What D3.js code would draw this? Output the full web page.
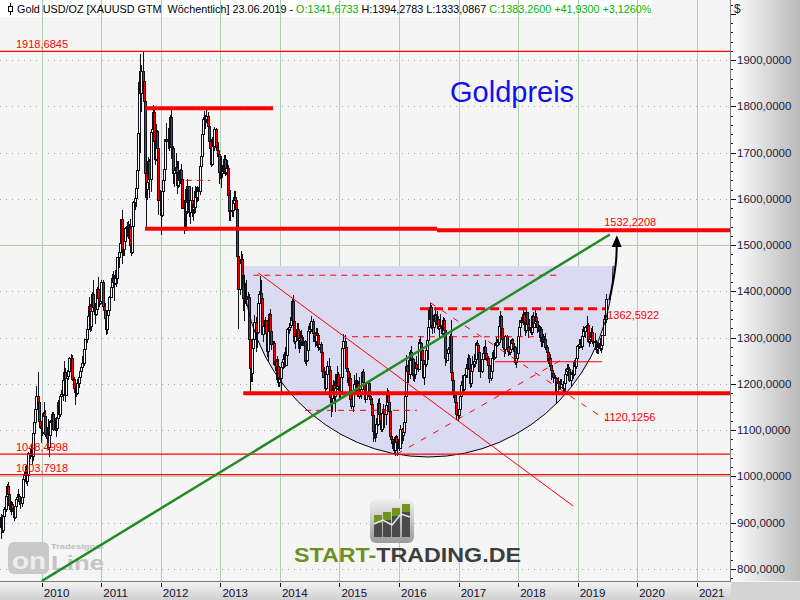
<!DOCTYPE html>
<html>
<head>
<meta charset="utf-8">
<script src="https://cdn.jsdelivr.net/npm/d3@7/dist/d3.min.js"></script>
<style>
html,body{margin:0;padding:0;background:#fff;}
svg{display:block;font-family:"Liberation Sans",Arial,sans-serif;}
</style>
</head>
<body>
<svg id="chart" width="800" height="600"></svg>
<script>
// ---------------- DATA ----------------
const lastBarDate = [2019, 5, 23];   // 23.06.2019 (weekly bars)
const firstOpen = 890;
const closes = [
// 2009
913,885,915,930,958,979,962,938,936,940,932,912,937,951,955,958,948,942,955,995,1006,1003,990,1004,1050,1051,1056,1045,1095,1118,1146,1175,1162,1120,1109,1104,1096,
// 2010
1138,1130,1091,1084,1064,1089,1119,1118,1134,1102,1103,1105,1126,1161,1136,1174,1179,1209,1226,1177,1212,1217,1228,1256,1257,1211,1210,1192,1188,1181,1202,1215,1228,1236,1246,1246,1275,1297,1318,1346,1369,1325,1357,1395,1366,1352,1363,1406,1385,1376,1380,1421,
// 2011
1369,1360,1342,1318,1348,1360,1388,1410,1429,1420,1418,1428,1429,1474,1486,1504,1556,1491,1492,1510,1536,1542,1529,1539,1501,1486,1542,1594,1601,1624,1663,1743,1852,1828,1877,1855,1812,1656,1622,1636,1682,1642,1745,1752,1788,1724,1686,1746,1710,1597,1605,1565,
// 2012
1617,1640,1665,1729,1725,1725,1725,1776,1712,1711,1655,1662,1668,1630,1658,1641,1663,1643,1581,1592,1573,1622,1594,1627,1572,1598,1579,1589,1582,1618,1604,1620,1616,1671,1692,1740,1772,1772,1773,1780,1758,1724,1711,1676,1730,1714,1751,1713,1705,1697,1658,1659,1656,
// 2013
1661,1687,1658,1667,1667,1609,1573,1576,1577,1592,1605,1597,1579,1476,1405,1462,1470,1435,1386,1386,1391,1383,1387,1297,1234,1223,1278,1297,1334,1310,1312,1375,1395,1396,1386,1308,1325,1338,1310,1272,1315,1352,1314,1287,1288,1244,1250,1230,1238,1204,1213,1237,
// 2014
1247,1253,1264,1240,1262,1318,1324,1327,1339,1380,1336,1293,1303,1318,1294,1300,1302,1290,1293,1292,1250,1252,1274,1315,1320,1319,1337,1310,1303,1293,1310,1306,1280,1286,1268,1229,1216,1216,1192,1222,1238,1231,1171,1169,1187,1197,1175,1191,1222,1195,1195,1184,
// 2015
1216,1277,1293,1279,1234,1228,1204,1213,1167,1152,1183,1199,1200,1205,1203,1175,1178,1188,1225,1204,1189,1168,1180,1201,1173,1168,1157,1132,1098,1096,1093,1113,1159,1134,1121,1103,1137,1145,1136,1155,1182,1162,1142,1088,1081,1076,1057,1085,1075,1066,1076,1061,
// 2016
1102,1089,1096,1117,1173,1238,1227,1221,1270,1252,1253,1220,1222,1243,1234,1233,1290,1289,1273,1252,1214,1243,1273,1296,1322,1340,1366,1327,1323,1350,1336,1335,1341,1321,1326,1328,1310,1338,1316,1257,1251,1266,1275,1304,1225,1208,1179,1177,1160,1134,1132,1146,
// 2017
1173,1197,1205,1190,1220,1234,1235,1257,1234,1201,1229,1243,1249,1254,1288,1284,1268,1228,1228,1254,1267,1279,1266,1254,1256,1242,1212,1228,1255,1269,1258,1289,1284,1291,1325,1346,1320,1297,1280,1275,1304,1280,1272,1269,1275,1294,1288,1280,1248,1255,1266,1303,
// 2018
1322,1338,1333,1351,1333,1316,1356,1329,1323,1323,1312,1347,1323,1332,1345,1336,1323,1314,1318,1292,1302,1294,1298,1279,1269,1252,1256,1241,1231,1223,1214,1212,1184,1206,1201,1196,1193,1199,1192,1203,1222,1227,1233,1232,1209,1222,1223,1222,1248,1238,1257,1281,
// 2019
1286,1288,1282,1304,1318,1314,1322,1328,1293,1298,1302,1313,1292,1290,1290,1276,1286,1280,1286,1277,1284,1305,1341,1341.33,1383.26
];
const highs = [
// 2009
918,916,918,935,962,984,989,963,948,947,945,935,940,956,962,972,962,952,958,998,1010,1022,1024,1008,1052,1062,1070,1065,1101,1120,1150,1195,1226,1165,1140,1113,1112,
// 2010
1140,1161,1143,1108,1124,1092,1121,1128,1140,1140,1126,1128,1130,1166,1170,1177,1186,1211,1249,1234,1215,1230,1251,1258,1265,1262,1213,1215,1200,1193,1210,1217,1233,1244,1260,1258,1276,1297,1323,1350,1387,1372,1360,1398,1424,1374,1380,1410,1431,1403,1392,1424,
// 2011
1424,1388,1374,1350,1348,1370,1390,1414,1437,1444,1436,1447,1448,1475,1489,1510,1557,1577,1530,1513,1540,1549,1553,1545,1557,1515,1544,1596,1610,1628,1682,1815,1877,1913,1889,1920,1830,1814,1690,1682,1690,1686,1747,1765,1803,1795,1740,1762,1748,1712,1620,1614,
// 2012
1625,1650,1670,1730,1764,1753,1742,1781,1792,1727,1714,1670,1700,1682,1681,1660,1665,1676,1646,1598,1598,1627,1642,1628,1628,1604,1625,1594,1597,1628,1625,1627,1626,1675,1694,1740,1777,1790,1781,1796,1788,1760,1731,1720,1733,1738,1755,1754,1723,1723,1705,1670,1693,
// 2013
1674,1694,1695,1682,1684,1674,1614,1619,1597,1596,1617,1616,1600,1587,1497,1468,1487,1481,1439,1417,1419,1424,1398,1394,1299,1267,1297,1298,1348,1345,1324,1377,1401,1433,1424,1388,1367,1344,1338,1330,1327,1354,1361,1324,1292,1292,1263,1253,1260,1254,1216,1246,
// 2014
1249,1256,1270,1280,1273,1320,1332,1345,1354,1384,1392,1337,1306,1331,1331,1306,1315,1316,1306,1302,1294,1256,1284,1325,1331,1332,1346,1340,1325,1313,1321,1320,1308,1296,1290,1272,1241,1236,1227,1231,1249,1255,1233,1177,1197,1208,1207,1221,1238,1226,1204,1209,
// 2015
1224,1282,1307,1305,1284,1246,1235,1219,1223,1178,1188,1219,1208,1224,1209,1207,1215,1194,1227,1232,1206,1196,1191,1205,1205,1188,1172,1170,1133,1104,1096,1126,1168,1170,1146,1124,1141,1156,1146,1158,1191,1186,1179,1146,1094,1086,1084,1088,1090,1088,1081,1082,
// 2016
1111,1104,1104,1127,1174,1263,1240,1252,1274,1282,1268,1255,1245,1248,1261,1270,1297,1304,1291,1287,1254,1245,1276,1315,1362,1341,1375,1370,1337,1352,1367,1352,1358,1346,1330,1352,1334,1344,1342,1318,1266,1272,1279,1308,1338,1232,1218,1193,1183,1180,1140,1161,
// 2017
1180,1207,1220,1220,1221,1244,1245,1264,1263,1236,1232,1260,1264,1273,1291,1296,1289,1270,1236,1263,1270,1283,1296,1279,1263,1261,1242,1233,1259,1274,1274,1291,1301,1298,1330,1357,1348,1327,1303,1283,1306,1306,1283,1283,1288,1297,1299,1298,1281,1260,1268,1305,
// 2018
1326,1339,1344,1366,1356,1346,1362,1356,1340,1340,1329,1350,1356,1347,1365,1354,1338,1327,1326,1322,1306,1308,1303,1310,1284,1272,1264,1265,1246,1235,1228,1220,1215,1207,1214,1206,1211,1210,1206,1208,1233,1234,1243,1243,1237,1226,1230,1231,1251,1252,1262,1284,
// 2019
1298,1297,1297,1305,1326,1320,1326,1346,1331,1301,1311,1320,1325,1300,1310,1296,1287,1290,1288,1300,1286,1306,1348,1358,1394.28
];
const lows = [
// 2009
866,881,880,902,925,952,955,930,925,918,925,905,910,932,940,950,940,932,936,950,990,998,986,982,1000,1040,1045,1026,1035,1087,1112,1138,1160,1108,1105,1075,1090,
// 2010
1095,1120,1087,1078,1060,1045,1075,1091,1104,1100,1100,1088,1100,1120,1134,1130,1155,1166,1196,1163,1176,1200,1210,1221,1228,1208,1196,1183,1157,1175,1178,1194,1208,1226,1232,1237,1241,1266,1290,1312,1338,1315,1316,1341,1364,1331,1348,1360,1381,1368,1372,1375,
// 2011
1365,1355,1340,1309,1310,1336,1357,1387,1398,1416,1382,1416,1412,1418,1452,1484,1502,1462,1478,1478,1500,1520,1516,1514,1496,1478,1483,1532,1578,1585,1610,1660,1738,1702,1790,1835,1760,1605,1535,1600,1627,1603,1617,1695,1734,1718,1676,1684,1700,1568,1575,1523,
// 2012
1563,1595,1627,1646,1713,1711,1706,1722,1688,1674,1635,1627,1657,1613,1626,1627,1635,1632,1580,1527,1532,1532,1570,1584,1563,1547,1563,1555,1569,1572,1586,1596,1598,1610,1650,1686,1725,1758,1753,1766,1752,1722,1700,1672,1673,1708,1706,1705,1692,1691,1635,1645,1625,
// 2013
1648,1656,1652,1654,1646,1598,1554,1555,1563,1563,1588,1590,1540,1466,1321,1394,1451,1422,1359,1338,1374,1371,1367,1268,1180,1207,1207,1272,1294,1271,1280,1310,1354,1387,1383,1308,1292,1311,1277,1260,1251,1313,1308,1276,1262,1240,1230,1211,1222,1195,1195,1181,
// 2014
1225,1235,1237,1238,1240,1260,1310,1316,1324,1334,1321,1289,1277,1295,1277,1268,1277,1285,1284,1284,1245,1240,1253,1270,1307,1310,1315,1293,1292,1282,1285,1299,1273,1276,1262,1229,1214,1207,1183,1189,1217,1224,1161,1131,1141,1176,1158,1142,1190,1186,1170,1167,
// 2015
1182,1215,1276,1252,1232,1216,1197,1192,1164,1147,1142,1181,1178,1185,1184,1174,1170,1170,1182,1201,1182,1162,1170,1175,1168,1162,1147,1130,1077,1083,1077,1086,1112,1116,1117,1098,1099,1123,1107,1114,1151,1159,1140,1085,1073,1062,1052,1046,1062,1047,1065,1058,
// 2016
1061,1072,1078,1094,1110,1171,1195,1204,1212,1237,1226,1208,1207,1212,1225,1227,1232,1266,1263,1248,1213,1199,1238,1268,1253,1310,1336,1321,1310,1313,1335,1330,1333,1319,1302,1320,1308,1309,1312,1241,1247,1256,1262,1273,1222,1200,1171,1160,1158,1125,1122,1127,
// 2017
1146,1174,1194,1180,1186,1214,1216,1233,1223,1194,1195,1227,1237,1238,1246,1278,1261,1228,1214,1226,1247,1255,1265,1252,1242,1236,1204,1208,1228,1248,1254,1256,1275,1281,1287,1322,1314,1295,1276,1260,1266,1276,1262,1264,1265,1269,1283,1271,1243,1236,1252,1264,
// 2018
1302,1308,1326,1330,1324,1306,1312,1322,1302,1316,1309,1308,1322,1322,1327,1333,1313,1302,1305,1283,1281,1290,1290,1276,1262,1246,1238,1236,1211,1219,1205,1204,1160,1180,1196,1190,1191,1193,1183,1185,1182,1216,1220,1211,1206,1196,1218,1212,1220,1235,1235,1256,
// 2019
1277,1279,1280,1276,1303,1305,1302,1320,1291,1281,1289,1298,1288,1281,1285,1270,1266,1267,1277,1273,1268,1276,1306,1323,1333.09
];

const yearTicks = [2010,2011,2012,2013,2014,2015,2016,2017,2018,2019,2020,2021];
const priceTicks = [800,900,1000,1100,1200,1300,1400,1500,1600,1700,1800,1900];
const majorGrid = [1000,1500];

// labelled full-width levels
const levels = [
  {v:1918.6845, label:"1918,6845"},
  {v:1048.4998, label:"1048,4998"},
  {v:1003.7918, label:"1003,7918"}
];
// thick red support / resistance segments [fromYear, toYear, value]
const thickLevels = [
  [2011.735, 2013.884, 1796],
  [2011.735, 2016.638, 1535.5],
  [2016.638, 2021.6, 1532.2208],
  [2013.383, 2021.6, 1180]
];
const thinLevels = [[2017.613, 2019.41, 1248]];
const dashedLevels = [
  [2013.551, 2018.655, 1435],
  [2015.21, 2018.32, 1302],
  [2014.42, 2016.30, 1143],
  [2012.42, 2012.825, 1640]
];
const thickDashed = [[2016.352, 2019.459, 1362.5922]];
// trend lines [[year,value],[year,value]]
const greenTrend = [[2010.0, 774], [2019.54, 1523]];
const redTrend = [[2013.635, 1440], [2018.925, 936]];
const dashedTrends = [
  [[2015.96, 1048], [2018.70, 1250]],
  [[2016.52, 1376], [2019.50, 1120.1256]]
];
const bowl = {left:2013.383, right:2019.596, top:1455, bottom:1042};
const arrowPts = [[2019.53,1381],[2019.60,1425],[2019.645,1467],[2019.656,1500]];
const valueLabels = [
  {yr:2019.445, v:1532.2208, label:"1532,2208", dy:-4},
  {yr:2019.495, v:1362.5922, label:"1362,5922", dy:10},
  {yr:2019.445, v:1120.1256, label:"1120,1256", dy:0}
];
const headerParts = [
  ["Gold USD/OZ [XAUUSD GTM  W\u00f6chentlich] 23.06.2019 - ", "#000000"],
  ["O:1341,6733", "#00b400"],
  [" H:1394,2783 L:1333,0867 ", "#000000"],
  ["C:1383,2600 +41,9300 +3,1260%", "#00b400"]
];

// ---------------- CHART ----------------
const svg = d3.select('#chart');
const PW = 730, PH = 581;
const x = d3.scaleTime().domain([new Date(2009,3,20), new Date(2021,6,23)]).range([0,PW]);
const y = d3.scaleLinear().domain([774.1, 2029.8]).range([PH,0]);
const yf = f => { const Y=Math.floor(f), s=new Date(Y,0,1), e=new Date(Y+1,0,1); return new Date(+s+(f-Y)*(e-s)); };
const X = f => x(yf(f));
const fmt = v => d3.format(".4f")(v).replace(".", ",");

const defs = svg.append('defs');
const gR = defs.append('linearGradient').attr('id','gAxisR').attr('x1',0).attr('x2',1).attr('y1',0).attr('y2',0);
gR.append('stop').attr('offset',0).attr('stop-color','#ffffff');
gR.append('stop').attr('offset',1).attr('stop-color','#b9b9b9');
const gB = defs.append('linearGradient').attr('id','gAxisB').attr('x1',0).attr('x2',0).attr('y1',0).attr('y2',1);
gB.append('stop').attr('offset',0).attr('stop-color','#f3f3f3');
gB.append('stop').attr('offset',1).attr('stop-color','#d0d0d0');
const gI = defs.append('linearGradient').attr('id','gIcon').attr('x1',0).attr('x2',0).attr('y1',0).attr('y2',1);
gI.append('stop').attr('offset',0).attr('stop-color','#f0f0f0');
gI.append('stop').attr('offset',1).attr('stop-color','#9a9a9a');
defs.append('clipPath').attr('id','clipPlot').append('rect').attr('x',0).attr('y',0).attr('width',PW).attr('height',PH);
const mk = defs.append('marker').attr('id','arrowHead').attr('viewBox','0 0 12 10')
  .attr('refX',2).attr('refY',5).attr('markerWidth',12).attr('markerHeight',10)
  .attr('markerUnits','userSpaceOnUse').attr('orient','auto');
mk.append('path').attr('d','M0,0 L12,5 L0,10 Z').attr('fill','#000');

// backgrounds
svg.append('rect').attr('width',800).attr('height',600).attr('fill','#f5f5f5');
svg.append('rect').attr('x',0).attr('y',0).attr('width',652).attr('height',17).attr('fill','#ffffff');

const plot = svg.append('g').attr('clip-path','url(#clipPlot)');

// grid
plot.selectAll('.hg').data(priceTicks.filter(v=>!majorGrid.includes(v))).join('line')
  .attr('x1',0).attr('x2',PW).attr('y1',d=>Math.round(y(d))+0.5).attr('y2',d=>Math.round(y(d))+0.5)
  .attr('stroke','#a9a9a9').attr('stroke-dasharray','1,5');
plot.selectAll('.hm').data(majorGrid).join('line')
  .attr('x1',0).attr('x2',PW).attr('y1',d=>Math.round(y(d))+0.5).attr('y2',d=>Math.round(y(d))+0.5)
  .attr('stroke','#b3cbb3');
plot.selectAll('.vg').data(yearTicks).join('line')
  .attr('x1',d=>Math.round(x(new Date(d,0,1)))+0.5).attr('x2',d=>Math.round(x(new Date(d,0,1)))+0.5)
  .attr('y1',0).attr('y2',PH).attr('stroke','#b3cbb3');

// logos (watermarks)
const logo = plot.append('g');
logo.append('rect').attr('x',370).attr('y',499).attr('width',44).attr('height',44).attr('rx',6).attr('fill','url(#gIcon)');
const iconBars = [[374,515],[383,512],[392,508],[402,504]];
iconBars.forEach(([bx,top])=>{
  logo.append('rect').attr('x',bx).attr('y',top).attr('width',8).attr('height',537-top).attr('fill','#4a4a4a');
  logo.append('rect').attr('x',bx).attr('y',top).attr('width',8).attr('height',8).attr('fill','#6f9420');
});
logo.append('path').attr('d','M374,524 L383,520 L392,525 L401,514 L410,517').attr('fill','none').attr('stroke','#e8e8e8').attr('stroke-width',1.5);
const st = logo.append('text').attr('x',294).attr('y',562).attr('font-size',20).attr('font-weight','bold')
  .attr('textLength',227).attr('lengthAdjust','spacingAndGlyphs');
st.append('tspan').attr('fill','#6f8f1f').text('START-');
st.append('tspan').attr('fill','#3e3e3e').text('TRADING.DE');

logo.append('rect').attr('x',8).attr('y',542).attr('width',41).attr('height',32).attr('rx',6).attr('fill','#c9c9c9');
logo.append('text').attr('x',12).attr('y',569).attr('font-size',23).attr('font-weight','bold').attr('fill','#eeeeee')
  .attr('textLength',34).attr('lengthAdjust','spacingAndGlyphs').text('on');
logo.append('text').attr('x',51).attr('y',570).attr('font-size',20).attr('font-weight','bold').attr('fill','#c4c4c4')
  .attr('textLength',53).attr('lengthAdjust','spacingAndGlyphs').text('Line');
logo.append('text').attr('x',51).attr('y',548.5).attr('font-size',7.5).attr('font-weight','bold').attr('fill','#bdbdbd')
  .attr('textLength',52).attr('lengthAdjust','spacingAndGlyphs').text('Tradesignal');

// bowl fill
const bx0 = X(bowl.left), bx1 = X(bowl.right), byT = y(bowl.top), byB = y(bowl.bottom);
const brx = (bx1-bx0)/2, bry = byB-byT;
plot.append('path').attr('d',`M${bx0},${byT} A${brx},${bry} 0 0 0 ${bx1},${byT} Z`).attr('fill','#dadaf3');

// candles
const n = closes.length;
const bars = closes.map((c,i)=>{
  const o = i===0 ? firstOpen : closes[i-1];
  const d = new Date(lastBarDate[0], lastBarDate[1], lastBarDate[2] - 7*(n-1-i));
  return {d,o,c,h:Math.max(highs[i],o,c),l:Math.min(lows[i],o,c)};
});
const cg = plot.append('g');
bars.forEach(b=>{
  const sx = Math.round(x(b.d));
  cg.append('line').attr('x1',sx+0.5).attr('x2',sx+0.5).attr('y1',Math.round(y(b.h))).attr('y2',Math.round(y(b.l))+1)
    .attr('stroke','#101018').attr('stroke-width',1);
  const yt = Math.round(y(Math.max(b.o,b.c)))+0.5, yb = Math.round(y(Math.min(b.o,b.c)))+0.5;
  cg.append('rect').attr('x',sx-0.5).attr('y',yt).attr('width',2).attr('height',Math.max(0,yb-yt))
    .attr('fill', b.c < b.o ? '#ff0000' : '#ffffff').attr('stroke','#101018').attr('stroke-width',1);
});

// bowl arc
plot.append('path').attr('d',`M${bx0},${byT} A${brx},${bry} 0 0 0 ${bx1},${byT}`)
  .attr('fill','none').attr('stroke','#000').attr('stroke-width',1);

// level lines
plot.selectAll('.lv').data(levels).join('line')
  .attr('x1',0).attr('x2',PW).attr('y1',d=>y(d.v)).attr('y2',d=>y(d.v))
  .attr('stroke','#ff0000').attr('stroke-width',1.3);
plot.selectAll('.tl').data(thickLevels).join('line')
  .attr('x1',d=>X(d[0])).attr('x2',d=>X(d[1])).attr('y1',d=>y(d[2])).attr('y2',d=>y(d[2]))
  .attr('stroke','#ff0000').attr('stroke-width',4);
plot.selectAll('.thl').data(thinLevels).join('line')
  .attr('x1',d=>X(d[0])).attr('x2',d=>X(d[1])).attr('y1',d=>y(d[2])).attr('y2',d=>y(d[2]))
  .attr('stroke','#ff0000').attr('stroke-width',1);
plot.selectAll('.dl').data(dashedLevels).join('line')
  .attr('x1',d=>X(d[0])).attr('x2',d=>X(d[1])).attr('y1',d=>y(d[2])).attr('y2',d=>y(d[2]))
  .attr('stroke','#ff0000').attr('stroke-width',1).attr('stroke-dasharray','6,5');
plot.selectAll('.tdl').data(thickDashed).join('line')
  .attr('x1',d=>X(d[0])).attr('x2',d=>X(d[1])).attr('y1',d=>y(d[2])).attr('y2',d=>y(d[2]))
  .attr('stroke','#ff0000').attr('stroke-width',3).attr('stroke-dasharray','9,5');
plot.selectAll('.dt').data(dashedTrends).join('line')
  .attr('x1',d=>X(d[0][0])).attr('x2',d=>X(d[1][0])).attr('y1',d=>y(d[0][1])).attr('y2',d=>y(d[1][1]))
  .attr('stroke','#ff0000').attr('stroke-width',1).attr('stroke-dasharray','6,8');
plot.append('line').attr('x1',X(redTrend[0][0])).attr('y1',y(redTrend[0][1])).attr('x2',X(redTrend[1][0])).attr('y2',y(redTrend[1][1]))
  .attr('stroke','#ff0000').attr('stroke-width',1);
plot.append('line').attr('x1',X(greenTrend[0][0])).attr('y1',y(greenTrend[0][1])).attr('x2',X(greenTrend[1][0])).attr('y2',y(greenTrend[1][1]))
  .attr('stroke','#228b22').attr('stroke-width',2.5);

// arrow
plot.append('path').attr('d', d3.line().x(d=>X(d[0])).y(d=>y(d[1])).curve(d3.curveCatmullRom)(arrowPts))
  .attr('fill','none').attr('stroke','#000').attr('stroke-width',2).attr('marker-end','url(#arrowHead)');

// labels
const lab = plot.append('g').attr('font-size',11).attr('fill','#ff0000');
levels.forEach(l=>lab.append('text').attr('x',16).attr('y',y(l.v)-3).text(l.label));
valueLabels.forEach(l=>lab.append('text').attr('x',X(l.yr)).attr('y',y(l.v)+l.dy).text(l.label));

plot.append('text').attr('x',450).attr('y',102).attr('font-size',29).attr('fill','#1010ee').text('Goldpreis');

// header
svg.append('line').attr('x1',10.5).attr('x2',10.5).attr('y1',3).attr('y2',15).attr('stroke','#000');
svg.append('rect').attr('x',8.5).attr('y',6.5).attr('width',4).attr('height',5).attr('fill','#fff').attr('stroke','#000');
const hg = svg.append('g');
const hTexts = headerParts.map(([t,c])=>hg.append('text').attr('y',13).attr('font-size',11.5).attr('fill',c).style('white-space','pre').text(t));
let total = 0; hTexts.forEach(t=>{ total += t.node().getComputedTextLength(); });
const hfs = 11.5*635/total;
let hx = 17;
hTexts.forEach(t=>{ t.attr('font-size',hfs).attr('x',hx); hx += t.node().getComputedTextLength(); });

// axis panels
svg.append('rect').attr('x',731).attr('y',0).attr('width',69).attr('height',PH).attr('fill','url(#gAxisR)');
svg.append('rect').attr('x',0).attr('y',582).attr('width',731).attr('height',18).attr('fill','url(#gAxisB)');
svg.append('rect').attr('x',731).attr('y',582).attr('width',69).attr('height',18).attr('fill','#d4d4d4');
svg.append('line').attr('x1',730.5).attr('x2',730.5).attr('y1',0).attr('y2',582).attr('stroke','#7c7c7c');
svg.append('line').attr('x1',0).attr('x2',731).attr('y1',581.5).attr('y2',581.5).attr('stroke','#7c7c7c');

// y axis
const minor = d3.range(780, 2030, 20);
svg.selectAll('.ymt').data(minor).join('line')
  .attr('x1',731).attr('x2',d=>d%100===0?736:733).attr('y1',d=>Math.round(y(d))+0.5).attr('y2',d=>Math.round(y(d))+0.5)
  .attr('stroke','#111');
svg.selectAll('.ylab').data(priceTicks).join('text')
  .attr('x',737).attr('y',d=>y(d)+4).attr('font-size',11.5).attr('fill','#1c1c3c').text(d=>fmt(d));
svg.append('text').attr('x',734).attr('y',13).attr('font-size',12).attr('fill','#1c1c3c').text('$');

// x axis
svg.selectAll('.xt').data(yearTicks).join('line')
  .attr('x1',d=>Math.round(x(new Date(d,0,1)))+0.5).attr('x2',d=>Math.round(x(new Date(d,0,1)))+0.5)
  .attr('y1',583).attr('y2',587).attr('stroke','#111');
svg.selectAll('.xl').data(yearTicks).join('text')
  .attr('x',d=>x(new Date(d,0,1))+2).attr('y',597).attr('font-size',11.5).attr('fill','#101030').text(d=>d);
</script>
</body>
</html>
